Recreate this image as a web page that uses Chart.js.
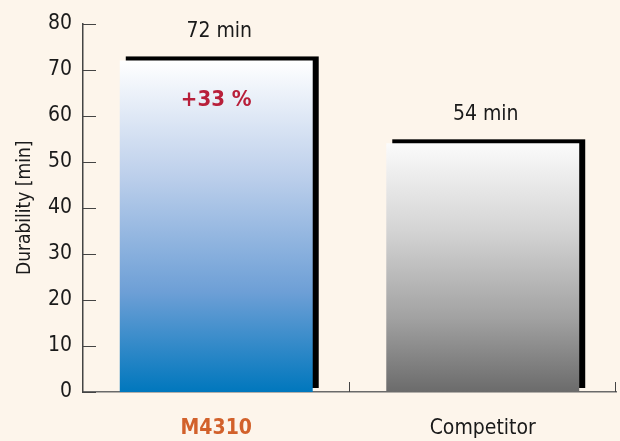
<!DOCTYPE html>
<html lang="en">
<head>
<meta charset="UTF-8">
<title>Durability</title>
<script src="https://cdn.jsdelivr.net/npm/chart.js"></script>
<style>
  body { margin: 0; background: #fdf5eb; }
  canvas { display: block; }
</style>
</head>
<body>
<canvas id="durabilityChart" width="620" height="441"></canvas>
<script>
const categories = ['M4310', 'Competitor'];
const durations = [72, 54];
const valueLabels = ['72 min', '54 min'];
const gainLabel = '+33 %';
const labelColors = ['#d2612b', '#1a1a1a'];
const yMin = 0, yMax = 80, yStep = 10;

const FONT = '"Liberation Sans Narrow", "DejaVu Sans Condensed", "DejaVu Sans", sans-serif';

// top -> bottom colour stops for each bar
const gradientStops = [
    [[0, '#ffffff'], [0.35, '#bccfeb'], [0.7, '#6d9fd6'], [1, '#0077bd']],
    [[0, '#fbfbfb'], [0.35, '#d4d4d4'], [0.7, '#a2a2a2'], [1, '#6b6b6b']]
];

function barGradient(ctx) {
    const chart = ctx.chart;
    if (!chart.chartArea) return '#cccccc';
    const y = chart.scales.y;
    const top = y.getPixelForValue(durations[ctx.dataIndex]);
    const base = y.getPixelForValue(0);
    const g = chart.ctx.createLinearGradient(0, top, 0, base);
    gradientStops[ctx.dataIndex].forEach(([o, c]) => g.addColorStop(o, c));
    return g;
}

// black offset block behind each bar
const barShadow = {
    id: 'barShadow',
    beforeDatasetsDraw(chart) {
        const ctx = chart.ctx;
        ctx.save();
        ctx.fillStyle = '#000';
        chart.getDatasetMeta(0).data.forEach(bar => {
            const { x, y, base, width } = bar.getProps(['x', 'y', 'base', 'width'], true);
            ctx.fillRect(x - width / 2 + 6, y - 4, width, base - y);
        });
        ctx.restore();
    }
};

// short inward tick marks on both axes
const axisTicks = {
    id: 'axisTicks',
    afterDraw(chart) {
        const ctx = chart.ctx;
        const xs = chart.scales.x, ys = chart.scales.y;
        ctx.save();
        ctx.strokeStyle = '#444';
        ctx.lineWidth = 1;
        ys.ticks.forEach((t, i) => {
            const py = Math.round(ys.getPixelForTick(i)) + 0.5;
            ctx.beginPath();
            ctx.moveTo(ys.right, py);
            ctx.lineTo(ys.right + 13, py);
            ctx.stroke();
        });
        const n = categories.length;
        for (let i = 1; i <= n; i++) {
            const px = Math.round(xs.left + i * xs.width / n) - 0.5;
            ctx.beginPath();
            ctx.moveTo(px, xs.top);
            ctx.lineTo(px, xs.top - 10);
            ctx.stroke();
        }
        ctx.restore();
    }
};

// value text above the bars and the gain note inside the first bar
const barLabels = {
    id: 'barLabels',
    afterDatasetsDraw(chart) {
        const ctx = chart.ctx;
        ctx.save();
        ctx.textAlign = 'center';
        ctx.textBaseline = 'middle';
        chart.getDatasetMeta(0).data.forEach((bar, i) => {
            ctx.fillStyle = '#1a1a1a';
            ctx.font = `21px ${FONT}`;
            ctx.fillText(valueLabels[i], bar.x + 3, bar.y - 29);
        });
        const first = chart.getDatasetMeta(0).data[0];
        ctx.fillStyle = '#b81f3a';
        ctx.font = `bold 22px ${FONT}`;
        ctx.fillText(gainLabel, first.x, first.y + 40);
        ctx.restore();
    }
};

new Chart(document.getElementById('durabilityChart'), {
    type: 'bar',
    data: {
        labels: categories,
        datasets: [{
            data: durations,
            backgroundColor: barGradient,
            borderWidth: 0,
            barPercentage: 0.724,
            categoryPercentage: 1
        }]
    },
    options: {
        responsive: false,
        animation: false,
        layout: { padding: { top: 22, right: 4, left: 0, bottom: 0 } },
        plugins: {
            legend: { display: false },
            tooltip: { enabled: false }
        },
        scales: {
            x: {
                afterFit: s => { s.height = 49; },
                grid: { display: false, drawTicks: false },
                border: { display: true, color: '#6a6a6a', width: 1.5 },
                ticks: {
                    padding: 24,
                    color: ctx => labelColors[ctx.index],
                    font: ctx => ({ family: FONT, size: 21, weight: ctx.index === 0 ? 'bold' : 'normal' })
                }
            },
            y: {
                min: yMin,
                max: yMax,
                afterFit: s => { s.width = 83; },
                grid: { display: false, drawTicks: false },
                border: { display: true, color: '#444', width: 1.5 },
                ticks: {
                    stepSize: yStep,
                    padding: 11,
                    color: '#1a1a1a',
                    font: { family: FONT, size: 21 }
                },
                title: {
                    display: true,
                    text: 'Durability [min]',
                    color: '#1a1a1a',
                    font: { family: FONT, size: 19 },
                    padding: { top: 14, bottom: 0 }
                }
            }
        }
    },
    plugins: [barShadow, axisTicks, barLabels]
});
</script>
</body>
</html>
